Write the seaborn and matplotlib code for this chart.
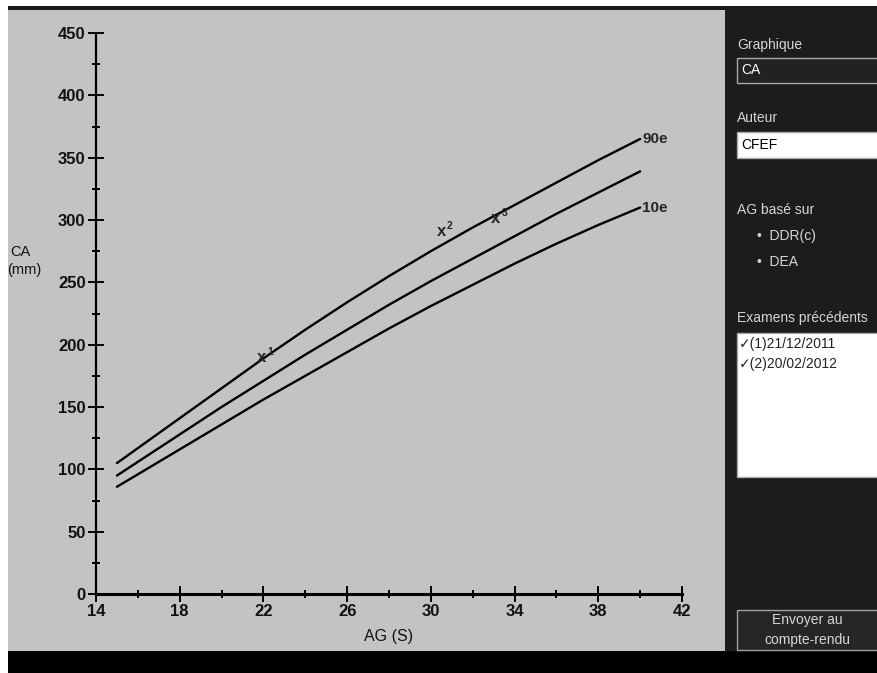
import matplotlib
matplotlib.use("Agg")
import matplotlib.pyplot as plt
from matplotlib.patches import Rectangle
from matplotlib.ticker import MultipleLocator
import pandas as pd
import seaborn as sns

# courbes CA (CFEF) - 10e, 50e, 90e percentiles
ag = [15, 16, 18, 20, 22, 24, 26, 28, 30, 32, 34, 36, 38, 40]
ca_p90 = [105, 117, 141, 165, 189, 212, 234, 255, 275, 294, 312, 330, 348, 365]
ca_p50 = [95, 106, 128, 150, 171, 192, 212, 232, 251, 269, 287, 305, 322, 339]
ca_p10 = [86, 96, 116, 136, 156, 175, 194, 213, 231, 248, 265, 281, 296, 310]

# examens (AG, CA)
exam_ag = [21.9, 30.5, 33.1]
exam_ca = [190, 291, 301]
exam_num = ["1", "2", "3"]

x_ticks = [14, 18, 22, 26, 30, 34, 38, 42]
y_ticks = [0, 50, 100, 150, 200, 250, 300, 350, 400, 450]

df = pd.concat([
    pd.DataFrame({"AG": ag, "CA": ca_p90, "courbe": "90e"}),
    pd.DataFrame({"AG": ag, "CA": ca_p50, "courbe": "50e"}),
    pd.DataFrame({"AG": ag, "CA": ca_p10, "courbe": "10e"}),
])

sns.set_theme(style="ticks")
plt.rcParams["font.family"] = ["Liberation Sans", "DejaVu Sans"]

W, H = 878, 673
fig = plt.figure(figsize=(W / 100, H / 100), dpi=100)
fig.patch.set_facecolor("white")


def box(x0, y0, x1, y1, fc, ec="none", lw=0):
    # rectangle en pixels (origine en haut a gauche)
    fig.add_artist(Rectangle((x0 / W, 1 - y1 / H), (x1 - x0) / W, (y1 - y0) / H,
                             transform=fig.transFigure, fc=fc, ec=ec, lw=lw, zorder=0))


def label(x, y, s, **kw):
    fig.text(x / W, 1 - y / H, s, **kw)


# fond
box(8, 10, 725, 651, "#c3c3c3")
box(8, 6, 878, 10, "#1a1a1a")
box(725, 10, 878, 651, "#1c1c1c")
box(8, 651, 878, 673, "black")

# graphique
ax = fig.add_axes([96 / W, 1 - 594 / H, (682 - 96) / W, (594 - 33) / H])
ax.set_facecolor("none")
sns.lineplot(data=df, x="AG", y="CA", units="courbe", estimator=None,
             color="black", lw=1.7, ax=ax)
ax.set_xlim(14, 42)
ax.set_ylim(0, 450)
ax.set_xticks(x_ticks)
ax.set_yticks(y_ticks)
ax.xaxis.set_minor_locator(MultipleLocator(2))
ax.yaxis.set_minor_locator(MultipleLocator(25))
for side in ["top", "right"]:
    ax.spines[side].set_visible(False)
ax.spines["left"].set_linewidth(1.6)
ax.spines["bottom"].set_linewidth(2.2)
ax.spines["left"].set_color("black")
ax.spines["bottom"].set_color("black")
ax.tick_params(which="major", direction="inout", length=11, width=1.4, colors="black",
               labelsize=12, pad=2)
ax.tick_params(which="minor", direction="inout", length=6, width=1.4, colors="black")
for t in ax.get_xticklabels() + ax.get_yticklabels():
    t.set_fontweight("bold")
    t.set_color("#111111")
ax.set_xlabel("")
ax.set_ylabel("")

# etiquettes des courbes
ax.text(40.1, ca_p90[-1], "90e", ha="left", va="center", fontsize=11, fontweight="bold")
ax.text(40.1, ca_p10[-1], "10e", ha="left", va="center", fontsize=11, fontweight="bold")

# examens
for x, y, n in zip(exam_ag, exam_ca, exam_num):
    ax.text(x, y, "x", ha="center", va="center", fontsize=12, fontweight="bold")
    ax.annotate(n, (x, y), xytext=(4, 4), textcoords="offset points",
                fontsize=7.5, fontweight="bold", ha="left", va="center")

label(389, 636, "AG (S)", ha="center", va="center", fontsize=11.5, color="#111111")
label(10, 252, "CA", ha="left", va="center", fontsize=10.5, color="#111111")
label(7, 270, "(mm)", ha="left", va="center", fontsize=10.5, color="#111111")

# panneau de droite
txt = "#d6d6d6"
label(737, 45, "Graphique", ha="left", va="center", fontsize=10, color=txt)
box(737, 58, 890, 83, "#222222", ec="#a8a8a8", lw=1)
label(741, 70, "CA", ha="left", va="center", fontsize=10, color="white")
label(737, 118, "Auteur", ha="left", va="center", fontsize=10, color=txt)
box(737, 132, 890, 158, "white", ec="#a8a8a8", lw=1)
label(741, 145, "CFEF", ha="left", va="center", fontsize=10, color="black")
label(737, 210, "AG basé sur", ha="left", va="center", fontsize=10, color=txt)
label(757, 236, "•  DDR(c)", ha="left", va="center", fontsize=10, color=txt)
label(757, 262, "•  DEA", ha="left", va="center", fontsize=10, color=txt)
label(737, 318, "Examens précédents", ha="left", va="center", fontsize=10, color=txt)
box(737, 333, 890, 477, "white", ec="#a8a8a8", lw=1)
label(739, 344, "✓(1)21/12/2011", ha="left", va="center", fontsize=10, color="#222222")
label(739, 364, "✓(2)20/02/2012", ha="left", va="center", fontsize=10, color="#222222")
box(737, 610, 890, 650, "#262626", ec="#a0a0a0", lw=1)
label(807, 620, "Envoyer au", ha="center", va="center", fontsize=10, color=txt)
label(807, 640, "compte-rendu", ha="center", va="center", fontsize=10, color=txt)

fig.savefig("out.png", dpi=100)
